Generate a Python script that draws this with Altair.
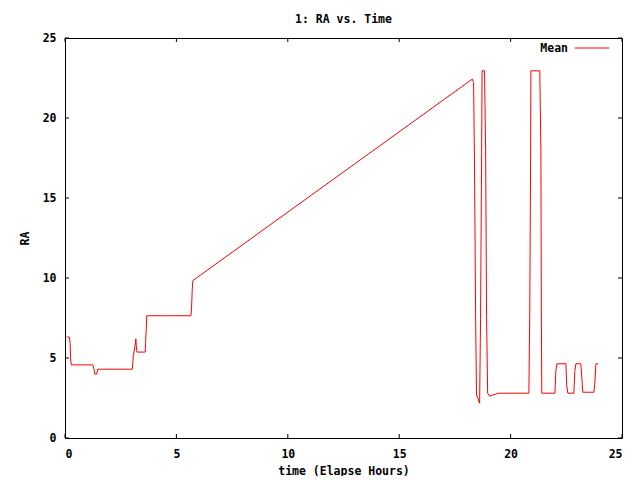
import altair as alt
import pandas as pd

# ---- data ----
time_hours = [0.08, 0.20, 0.23, 0.25, 0.28, 1.25, 1.30, 1.34, 1.42, 1.47,
              3.02, 3.07, 3.14, 3.18, 3.20, 3.23, 3.60, 3.62, 3.67, 5.65,
              5.68, 5.71, 5.74, 18.28, 18.34, 18.38, 18.43, 18.47, 18.53, 18.61,
              18.65, 18.70, 18.72, 18.83, 18.88, 18.92, 18.97, 19.06, 19.20, 19.47,
              20.82, 20.86, 20.90, 20.91, 21.31, 21.36, 21.38, 21.40, 21.99, 22.03,
              22.08, 22.48, 22.52, 22.57, 22.84, 22.88, 22.93, 23.15, 23.20, 23.24,
              23.74, 23.78, 23.83, 23.92]
ra_values = [6.31, 6.31, 5.89, 5.01, 4.57, 4.57, 4.30, 3.99, 3.99, 4.30,
             4.30, 5.16, 5.72, 6.20, 5.76, 5.37, 5.37, 5.97, 7.64, 7.64,
             8.13, 9.27, 9.84, 22.43, 22.22, 17.04, 7.52, 2.69, 2.49, 2.17,
             7.39, 17.79, 22.95, 22.95, 17.88, 7.81, 2.80, 2.61, 2.69, 2.80,
             2.80, 7.81, 17.94, 22.95, 22.95, 17.94, 7.81, 2.80, 2.80, 4.15,
             4.64, 4.64, 3.26, 2.80, 2.80, 4.15, 4.64, 4.64, 3.74, 2.86,
             2.86, 3.43, 4.64, 4.64]
x_ticks = [0, 5, 10, 15, 20, 25]
y_ticks = [0, 5, 10, 15, 20, 25]
series_name = ["Mean"]

df = pd.DataFrame({"time": time_hours, "RA": ra_values,
                   "order": list(range(len(time_hours)))})
xt = pd.DataFrame({"time": x_ticks})
yt = pd.DataFrame({"RA": y_ticks})
leg = pd.DataFrame({"name": series_name})

FONT = "DejaVu Sans Mono"
FS = 11.5
W, H = 557, 400
TICK = 4
RED = "#ff0000"

xscale = alt.Scale(domain=[0, 25], nice=False, zero=False)
yscale = alt.Scale(domain=[0, 25], nice=False, zero=False)

xaxis = alt.Axis(values=x_ticks, title="time (Elapse Hours)", ticks=False, tickSize=0,
                 labelPadding=10, titleX=W / 2, titleY=33, titleBaseline="middle",
                 titleAlign="center")
yaxis = alt.Axis(values=y_ticks, title="RA", ticks=False, tickSize=0,
                 labelPadding=9, titleX=-40, titleY=H / 2, titleBaseline="middle",
                 titleAlign="center", titleAngle=-90)

line = alt.Chart(df).mark_line(color=RED, strokeWidth=1, interpolate="linear").encode(
    x=alt.X("time:Q", scale=xscale, axis=xaxis),
    y=alt.Y("RA:Q", scale=yscale, axis=yaxis),
    order="order:Q",
)

bottom_ticks = alt.Chart(xt).mark_rule(color="black", strokeWidth=1).encode(
    x=alt.X("time:Q", scale=xscale, axis=xaxis), y=alt.value(H), y2=alt.value(H - TICK))
top_ticks = alt.Chart(xt).mark_rule(color="black", strokeWidth=1).encode(
    x=alt.X("time:Q", scale=xscale, axis=xaxis), y=alt.value(0), y2=alt.value(TICK))
left_ticks = alt.Chart(yt).mark_rule(color="black", strokeWidth=1).encode(
    y=alt.Y("RA:Q", scale=yscale, axis=yaxis), x=alt.value(0), x2=alt.value(TICK))
right_ticks = alt.Chart(yt).mark_rule(color="black", strokeWidth=1).encode(
    y=alt.Y("RA:Q", scale=yscale, axis=yaxis), x=alt.value(W), x2=alt.value(W - TICK))

legend_text = alt.Chart(leg).mark_text(align="right", baseline="middle", font=FONT,
                                       fontSize=FS, fontWeight="bold", color="black").encode(
    text="name:N", x=alt.value(503), y=alt.value(11))
legend_line = alt.Chart(leg).mark_rule(color=RED, strokeWidth=1).encode(
    x=alt.value(510), x2=alt.value(544), y=alt.value(10))

chart = alt.layer(line, bottom_ticks, top_ticks, left_ticks, right_ticks,
                  legend_text, legend_line).properties(
    width=W, height=H,
    title=alt.Title("1: RA vs. Time", font=FONT, fontSize=FS, fontWeight="bold",
                    color="black", anchor="middle", offset=7),
    autosize=alt.AutoSizeParams(type="none"),
    padding={"left": 57, "top": 30, "right": 10, "bottom": 38},
    background="white",
).configure_view(
    stroke="black", strokeWidth=1
).configure_axis(
    grid=False, domain=False, labelFont=FONT, labelFontSize=FS, labelFontWeight="bold",
    labelColor="black", titleFont=FONT, titleFontSize=FS, titleFontWeight="bold",
    titleColor="black",
)

chart.save("out.html", embed_options={"renderer": "svg", "actions": False})
